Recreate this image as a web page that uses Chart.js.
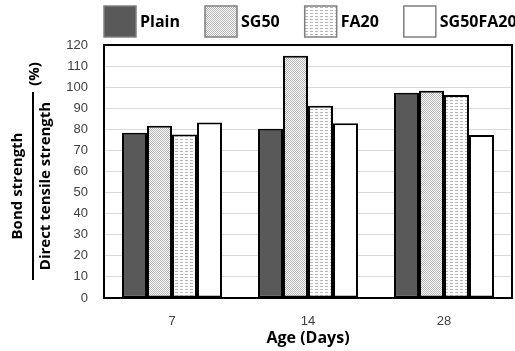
<!DOCTYPE html>
<html>
<head>
<meta charset="utf-8">
<script src="https://cdn.jsdelivr.net/npm/chart.js@4/dist/chart.umd.min.js"></script>
<style>
  html, body { margin: 0; padding: 0; background: #fff; }
  #wrap { width: 515px; height: 351px; }
</style>
</head>
<body>
<div id="wrap"><canvas id="myChart"></canvas></div>
<script>
var ages = ['7', '14', '28'];
var seriesNames = ['Plain', 'SG50', 'FA20', 'SG50FA20'];
var plain = [78.4, 80.3, 97.4];
var sg50 = [81.7, 114.9, 98.3];
var fa20 = [77.6, 91.2, 96.3];
var sg50fa20 = [83.2, 82.9, 77.3];
var yTicks = [0, 10, 20, 30, 40, 50, 60, 70, 80, 90, 100, 110, 120];

// little tiles for the hatched fills
function makePattern(kind) {
  var c = document.createElement('canvas');
  var w = kind == 'dash' ? 5 : 4;
  var h = kind == 'dash' ? 3 : 4;
  c.width = w; c.height = h;
  var g = c.getContext('2d');
  g.fillStyle = '#fff';
  g.fillRect(0, 0, w, h);
  if (kind == 'diag') {
    g.fillStyle = '#b4b4b4';
    for (var i = 0; i < 4; i++) {
      g.fillRect(i, i % 4, 1, 1);
      g.fillRect(i, (i + 2) % 4, 1, 1);
    }
  } else if (kind == 'dash') {
    g.fillStyle = '#b8b8b8';
    g.fillRect(0, 1, 3, 1);
  }
  return g.createPattern(c, 'repeat');
}

var fills = ['#595959', makePattern('diag'), makePattern('dash'), '#ffffff'];
var values = [plain, sg50, fa20, sg50fa20];

var datasets = [];
for (var i = 0; i < seriesNames.length; i++) {
  datasets.push({
    label: seriesNames[i],
    data: values[i],
    backgroundColor: fills[i],
    borderColor: '#000',
    borderWidth: 2,
    borderSkipped: false,
    categoryPercentage: 0.735,
    barPercentage: 1.0
  });
}

var extras = {
  id: 'extras',
  afterDatasetsDraw: function(chart) {
    var ctx = chart.ctx;
    var a = chart.chartArea;
    ctx.save();
    ctx.strokeStyle = '#000';
    ctx.lineWidth = 2;
    ctx.strokeRect(a.left, a.top, a.right - a.left, a.bottom - a.top);
    ctx.restore();
  },
  afterDraw: function(chart) {
    var ctx = chart.ctx;
    ctx.save();
    // legend
    ctx.font = 'bold 16px "Open Sans"';
    ctx.textBaseline = 'middle';
    ctx.textAlign = 'left';
    var x = 104;
    for (var i = 0; i < seriesNames.length; i++) {
      ctx.fillStyle = fills[i];
      ctx.fillRect(x, 6, 32, 31);
      ctx.strokeStyle = '#7f7f7f';
      ctx.lineWidth = 1.5;
      ctx.strokeRect(x, 6, 32, 31);
      ctx.fillStyle = '#000';
      ctx.fillText(seriesNames[i], x + 36, 22);
      x += 36 + ctx.measureText(seriesNames[i]).width + 25;
    }
    // y title as a fraction
    ctx.font = 'bold 15px "Open Sans"';
    ctx.textAlign = 'center';
    ctx.translate(0, 186);
    ctx.rotate(-Math.PI / 2);
    ctx.fillText('Bond strength', 0, 18);
    ctx.fillText('Direct tensile strength', 0, 46);
    ctx.fillText('(%)', 112, 35);
    ctx.fillRect(-94, 32, 188, 2);
    ctx.restore();
  }
};

var ctx = document.getElementById('myChart').getContext('2d');
var myChart = new Chart(ctx, {
  type: 'bar',
  data: { labels: ages, datasets: datasets },
  options: {
    responsive: true,
    maintainAspectRatio: false,
    animation: false,
    layout: { padding: { top: 45, right: 3, left: 0, bottom: 0 } },
    plugins: {
      legend: { display: false },
      tooltip: { enabled: false }
    },
    scales: {
      x: {
        grid: { display: false },
        border: { color: '#000', width: 2 },
        ticks: { color: '#404040', font: { family: 'Liberation Sans', size: 13 }, padding: 8 },
        title: {
          display: true,
          text: 'Age (Days)',
          color: '#000',
          font: { family: 'Open Sans', size: 16, weight: 'bold' },
          padding: { top: 0, bottom: 3 }
        },
        afterFit: function(scale) { scale.height = 53; }
      },
      y: {
        min: 0,
        max: 120,
        afterBuildTicks: function(scale) {
          scale.ticks = yTicks.map(function(v) { return { value: v }; });
        },
        grid: { color: '#d9d9d9', lineWidth: 1, drawTicks: false },
        border: { color: '#000', width: 2 },
        ticks: { color: '#404040', font: { family: 'Liberation Sans', size: 13 }, padding: 16 },
        afterFit: function(scale) { scale.width = 104; }
      }
    }
  },
  plugins: [extras]
});
</script>
</body>
</html>
